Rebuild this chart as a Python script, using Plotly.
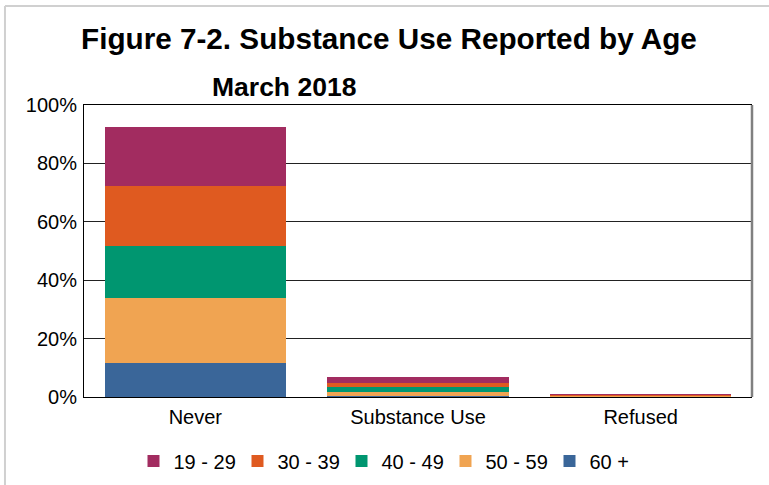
import plotly.graph_objects as go

categories = ["Never", "Substance Use", "Refused"]
age_groups = ["60 +", "50 - 59", "40 - 49", "30 - 39", "19 - 29"]
shares = {
    "60 +": [11.7, 0.45, 0.05],
    "50 - 59": [22.3, 1.4, 0.3],
    "40 - 49": [17.8, 1.7, 0.05],
    "30 - 39": [20.5, 1.4, 0.35],
    "19 - 29": [20.2, 2.05, 0.05],
}
colors = {
    "60 +": "#3A6699",
    "50 - 59": "#F0A452",
    "40 - 49": "#009670",
    "30 - 39": "#DF5A20",
    "19 - 29": "#A22C60",
}
y_ticks = [0, 20, 40, 60, 80, 100]
font_family = "Arial, Liberation Sans, sans-serif"

fig = go.Figure()
for group in age_groups:
    fig.add_trace(go.Bar(
        x=categories,
        y=shares[group],
        name=group,
        marker={"color": colors[group], "line": {"width": 0}},
    ))

fig.update_layout(
    barmode="stack",
    bargap=0.187,
    width=769,
    height=485,
    margin={"l": 84, "r": 17, "t": 105, "b": 88},
    paper_bgcolor="white",
    plot_bgcolor="white",
    font={"family": font_family, "size": 20, "color": "black"},
    showlegend=True,
    legend={
        "orientation": "h",
        "traceorder": "reversed",
        "x": 0.0741,
        "xanchor": "left",
        "yref": "container",
        "y": 0.0495,
        "yanchor": "middle",
        "font": {"size": 20},
        "entrywidth": 59,
        "itemwidth": 30,
    },
)
fig.update_xaxes(
    automargin=False,
    showline=True,
    mirror=True,
    linecolor="black",
    linewidth=1,
    ticks="outside",
    ticklen=2,
    tickcolor="rgba(0,0,0,0)",
)
fig.update_yaxes(
    automargin=False,
    range=[0, 100],
    tickvals=y_ticks,
    ticktext=[f"{v}%" for v in y_ticks],
    showline=True,
    linecolor="black",
    linewidth=1,
    showgrid=True,
    gridcolor="#222222",
    gridwidth=1,
    zeroline=False,
    ticks="outside",
    ticklen=2,
    tickcolor="rgba(0,0,0,0)",
)

# right frame edge in grey
fig.add_shape(type="line", xref="paper", yref="paper", x0=1, x1=1, y0=0, y1=1,
              line={"color": "#808080", "width": 2.5})
# light outer border of the page
fig.add_shape(type="line", xref="paper", yref="paper", x0=-0.1183, x1=-0.1183,
              y0=1.339, y1=-0.35, line={"color": "#d0d0d0", "width": 2})
fig.add_shape(type="line", xref="paper", yref="paper", x0=-0.1183, x1=1.1,
              y0=1.339, y1=1.339, line={"color": "#d0d0d0", "width": 2})

fig.add_annotation(
    text="<b>Figure 7-2. Substance Use Reported by Age</b>",
    xref="paper", yref="paper", x=0.457, y=1.229,
    xanchor="center", yanchor="middle", showarrow=False,
    font={"family": font_family, "size": 29.7, "color": "black"},
)
fig.add_annotation(
    text="<b>March 2018</b>",
    xref="paper", yref="paper", x=0.2987, y=1.063,
    xanchor="center", yanchor="middle", showarrow=False,
    font={"family": font_family, "size": 26.5, "color": "black"},
)

# drop the browser's default body margin so the figure sits at the page corner
fig.write_html(
    "out.html",
    config={"displayModeBar": False},
    post_script="document.body.style.margin = '0px';",
)
